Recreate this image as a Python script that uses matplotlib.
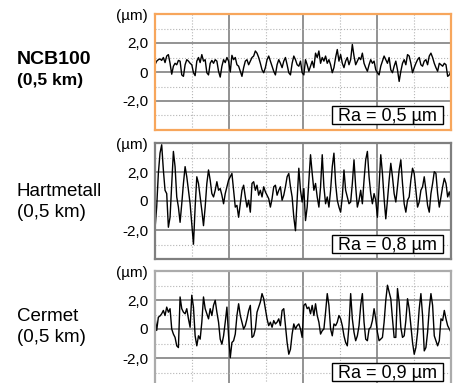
import matplotlib.pyplot as plt
from matplotlib.patches import Rectangle
import numpy as np

# Rauheitsprofile von drei Schneidstoffen nach 0,5 km Laufweg
plt.rcParams['font.family'] = ['Liberation Sans', 'DejaVu Sans']

names = ['NCB100', 'Hartmetall', 'Cermet']
distance = '(0,5 km)'
ra_values = ['0,5', '0,8', '0,9']
ytick_vals = [-2, 0, 2]
ytick_labels = ['-2,0', '0', '2,0']

ncb100 = [
    0.5, 0.75, 0.85, 0.9, 0.8, 1.0, 0.65, 1.1, 1.2, 0.6,
    -0.15, 0.4, 0.6, 0.5, 0.8, 0.75, -0.2, -0.3, 0.5, 0.85,
    0.75, 0.6, 0.5, -0.05, -0.25, 0.75, 1.0, 0.65, 1.2, 0.75,
    0.85, -0.05, -0.2, 0.6, 0.8, 0.6, 0.85, 0.75, 0.05, -0.35,
    0.4, 0.85, 0.65, 1.0, 0.75, 0.0, 1.15, 0.85, 1.0, 0.5,
    0.4, 0.05, -0.3, 0.3, 0.75, 0.85, 0.5, 0.75, 1.0, 1.1,
    1.45, 1.3, 1.0, 0.6, 0.15, -0.05, 0.3, 0.85, 1.1, 0.75,
    0.4, 0.05, -0.2, 0.5, 0.85, 0.6, 0.3, 0.75, 1.0, 0.5,
    -0.05, -0.2, 0.6, 1.1, 0.85, 0.5, 0.4, 0.75, -0.05, -0.2,
    0.85, 0.5, 0.05, 0.4, 0.75, 0.3, 1.3, 1.0, 1.45, 0.6,
    1.0, 0.75, 1.1, 0.6, 0.85, 0.5, -0.05, 0.3, 1.0, 1.55,
    0.75, 1.2, 0.6, 0.3, 0.75, 1.0, 0.5, 0.85, 1.9, 1.1,
    0.5, 0.75, 1.0, 0.85, 1.3, 0.6, 0.3, 0.05, 0.5, 0.85,
    0.6, 0.75, 0.15, -0.05, -0.2, 0.4, 0.75, 1.1, 0.85, 0.6,
    1.0, 0.15, -0.05, 0.4, 0.75, 0.15, -0.65, 0.05, 0.6, 0.85,
    0.5, 1.2, 1.1, 0.6, -0.05, 0.3, 0.6, 0.85, 1.0, 0.5,
    0.4, 0.75, 0.85, 0.5, 1.1, 1.3, 1.0, 0.6, 0.3, 0.05,
    0.6, 0.5, 0.4, 0.6, 0.5, -0.3, -0.2, 0.05,
]

hartmetall = [
    -1.93, -0.42, 1.9, 3.3, 3.88, 2.14, 0.74, 0.51, -1.81, -1.12,
    1.21, 3.42, 2.37, 0.28, -0.42, -1.47, -0.19, 1.21, 2.37, 1.67,
    0.74, -0.19, -1.58, -2.98, -0.42, 1.67, 1.21, 0.28, -0.65, -1.7,
    -0.42, 1.21, 2.14, 1.44, 0.51, 0.28, 0.74, 1.33, 0.74, 0.86,
    0.4, -0.19, 0.51, 0.98, 1.44, 1.67, 1.9, 0.74, -0.42, -0.3,
    -1.12, -0.19, 0.74, 1.09, 0.28, -0.42, 0.05, -0.77, 1.21, 1.33,
    0.74, 1.09, 0.4, 0.74, 0.28, 0.98, 0.63, 0.4, 0.16, -0.42,
    0.16, 0.98, 1.09, 0.4, 0.74, 0.98, 0.05, 0.4, 0.98, 1.67,
    1.9, 0.98, 0.28, -1.12, -2.05, 0.05, 2.26, 0.74, -0.07, 0.86,
    -1.35, -0.42, 1.44, 3.19, 1.9, 0.74, 1.21, 0.28, -0.42, 0.98,
    3.19, 0.98, -0.19, 0.28, -0.42, 0.74, 2.37, 3.3, 1.21, 0.05,
    -0.42, -0.77, 0.28, 2.14, 0.74, 0.28, -0.19, -0.07, 1.21, 2.84,
    0.98, -0.42, 0.05, 0.74, -0.19, 1.44, 2.84, 3.42, 1.67, 0.51,
    -0.19, 0.51, 0.05, -1.12, 0.98, 3.19, 1.9, 0.16, -1.23, 0.05,
    1.44, 2.6, 1.67, 0.51, -0.07, 0.98, 2.14, 2.84, 1.21, -0.19,
    -0.77, 0.05, 0.28, 1.44, 2.26, 1.9, 0.74, -0.42, -0.07, 0.74,
    0.98, 1.67, 0.74, -0.3, -0.77, 0.51, 1.21, 2.02, 1.9, 0.51,
    -0.42, 0.28, 0.98, 1.56, 1.21, 0.28, 0.63, 0.05,
]

cermet = [
    0.8, -0.1, 0.81, 0.9, 1.05, 1.28, 0.93, 1.51, 1.16, 1.4,
    0.0, -0.35, -0.58, -1.16, -1.28, 2.21, 1.4, 1.16, 1.05, 1.4,
    0.7, 0.12, 2.33, 1.51, -0.47, -1.16, -0.47, -0.7, 0.47, 2.21,
    1.4, 1.05, 0.7, 1.4, 0.93, 1.63, 1.98, 1.16, 0.47, -0.7,
    -1.05, -0.47, 0.47, 1.51, -0.47, -1.98, -0.93, -0.81, -0.35, 0.93,
    1.74, 0.93, 0.47, 0.0, 0.23, 0.7, 1.28, 1.63, -0.58, -0.47,
    0.0, 1.16, 1.51, 1.86, 2.44, 2.09, 1.4, 0.7, 0.23, 0.47,
    0.12, 0.58, 0.35, 0.47, 0.7, 0.23, 1.28, 1.4, 0.23, -0.93,
    -1.74, -1.4, -0.35, 0.35, 0.0, 0.23, 0.35, 0.0, -0.58, 1.63,
    1.74, 1.4, 1.51, 1.05, 1.63, 0.93, 1.74, 0.93, 0.47, -0.35,
    -0.12, 0.0, 1.16, 2.44, 1.63, 0.0, -0.47, 0.35, 0.23, 0.47,
    0.93, 0.7, 0.23, -0.47, -0.93, -1.16, 0.23, 2.44, 0.7, -0.23,
    -0.81, -0.47, 0.23, 1.63, 2.44, 0.47, -0.7, -0.81, 0.0, 0.12,
    0.58, 1.4, 0.7, -0.23, -0.81, -0.7, -0.58, 0.47, 1.98, 3.02,
    2.56, 2.09, 0.7, -0.58, -0.58, 2.79, 1.86, 0.12, -0.58, -0.47,
    0.58, 2.09, 1.4, 0.23, -0.93, -1.74, -1.28, -0.23, 1.4, 2.44,
    0.93, -1.51, -1.28, -0.23, 1.4, 2.44, 1.63, -0.47, -0.81, -1.16,
    -0.81, 0.7, 0.58, 1.28, 0.7, 0.23, 0.0, -0.23,
]

profiles = [ncb100, hartmetall, cermet]
frame_colors = ['#F7A65C', '#7F7F7F', '#ABABAB']
name_weight = ['bold', 'normal', 'normal']
name_size = [14, 13.5, 13.5]
sub_size = [12.5, 13.5, 13.5]

W, H = 457, 383
fig = plt.figure(figsize=(W / 100, H / 100), dpi=100)

tops = [14, 143, 271]          # Oberkante der Diagramme in Pixeln
name_base = [64, 196, 321]     # Grundlinie der Beschriftung links

for i in range(3):
    ax = fig.add_axes([155 / W, 1 - (tops[i] + 116) / H, 296 / W, 116 / H])
    x = np.linspace(0, 8, len(profiles[i]))
    ax.plot(x, profiles[i], color='black', lw=1.0, zorder=3)
    ax.set_xlim(0, 8)
    ax.set_ylim(-4, 4)
    ax.set_yticks(ytick_vals)
    ax.set_yticklabels(ytick_labels)
    ax.set_yticks([-3, -1, 1, 3], minor=True)
    ax.set_xticks([2, 4, 6])
    ax.set_xticks([1, 3, 5, 7], minor=True)
    ax.tick_params(which='both', length=0, labelbottom=False, labelsize=11, pad=5)
    ax.grid(which='major', color='#808080', lw=1.2)
    ax.grid(which='minor', color='#b5b5b5', lw=0.8, ls=':')
    ax.set_axisbelow(True)
    for s in ax.spines.values():
        s.set_color(frame_colors[i])
        s.set_linewidth(1.6)
        s.set_zorder(5)

    ax.text(-0.024, 0.985, '(µm)', ha='right', va='center', size=11,
            transform=ax.transAxes)

    ax.add_patch(Rectangle((0.598, 0.052), 0.375, 0.157, transform=ax.transAxes,
                           facecolor='white', edgecolor='black', lw=1.0,
                           zorder=6, clip_on=False))
    ax.text(0.785, 0.075, f'Ra = {ra_values[i]} µm', ha='center', va='baseline',
            size=13, transform=ax.transAxes, zorder=7)

    fig.text(17 / W, 1 - name_base[i] / H, names[i], ha='left', va='baseline',
             size=name_size[i], weight=name_weight[i])
    fig.text(17 / W, 1 - (name_base[i] + 21) / H, distance, ha='left', va='baseline',
             size=sub_size[i], weight=name_weight[i])

fig.savefig('out.png', dpi=100)
